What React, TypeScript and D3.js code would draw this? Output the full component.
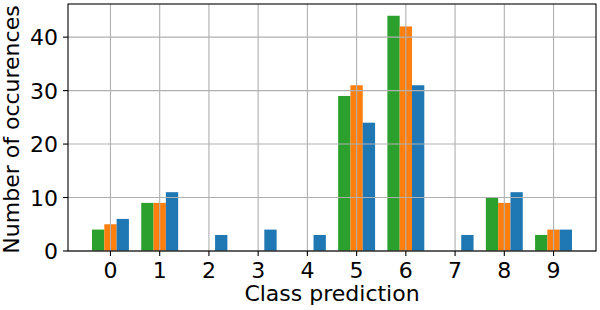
import React from "react";
import * as d3 from "d3";

const categories = [0, 1, 2, 3, 4, 5, 6, 7, 8, 9];
const greenValues = [4, 9, 0, 0, 0, 29, 44, 0, 10, 3];
const orangeValues = [5, 9, 0, 0, 0, 31, 42, 0, 9, 4];
const blueValues = [6, 11, 3, 4, 3, 24, 31, 3, 11, 4];
const yTicks = [0, 10, 20, 30, 40];

const series = [
  { name: "green", values: greenValues, color: "#2ca02c", offset: -0.25 },
  { name: "orange", values: orangeValues, color: "#ff7f0e", offset: 0 },
  { name: "blue", values: blueValues, color: "#1f77b4", offset: 0.25 },
];

const W = 600;
const H = 310;
const left = 68;
const right = 596;
const top = 4;
const bottom = 251;
const barW = 0.25;

export default function App() {
  const x = d3.scaleLinear().domain([-0.8625, 9.8625]).range([left, right]);
  const y = d3.scaleLinear().domain([0, 46.2]).range([bottom, top]);
  const font = "DejaVu Sans, sans-serif";
  const tickSize = 22;
  const labelSize = 22;
  return (
    <svg width={W} height={H} style={{ position: "absolute", left: 0, top: 0 }}>
      <rect x={0} y={0} width={W} height={H} fill="white" />
      {series.map((s) =>
        s.values.map((v, i) => {
          const x0 = x(categories[i] + s.offset - barW / 2);
          const x1 = x(categories[i] + s.offset + barW / 2);
          return (
            <rect key={s.name + i} x={x0} y={y(v)} width={x1 - x0} height={y(0) - y(v)} fill={s.color} />
          );
        })
      )}
      {categories.map((c) => (
        <line key={"gx" + c} x1={x(c)} x2={x(c)} y1={top} y2={bottom} stroke="#b0b0b0" strokeWidth={1.1} />
      ))}
      {yTicks.map((t) => (
        <line key={"gy" + t} x1={left} x2={right} y1={y(t)} y2={y(t)} stroke="#b0b0b0" strokeWidth={1.1} />
      ))}
      <rect x={left} y={top} width={right - left} height={bottom - top} fill="none" stroke="black" strokeWidth={1.1} />
      {categories.map((c) => (
        <g key={"tx" + c}>
          <line x1={x(c)} x2={x(c)} y1={bottom} y2={bottom + 5} stroke="black" strokeWidth={1.1} />
          <text x={x(c)} y={278} textAnchor="middle" fontFamily={font} fontSize={tickSize} fill="black">
            {c}
          </text>
        </g>
      ))}
      {yTicks.map((t) => (
        <g key={"ty" + t}>
          <line x1={left - 5} x2={left} y1={y(t)} y2={y(t)} stroke="black" strokeWidth={1.1} />
          <text x={left - 10} y={y(t) + 8.3} textAnchor="end" fontFamily={font} fontSize={tickSize} fill="black">
            {t}
          </text>
        </g>
      ))}
      <text x={(left + right) / 2} y={300.5} textAnchor="middle" fontFamily={font} fontSize={labelSize} fill="black">
        Class prediction
      </text>
      <text
        transform={`translate(18.5,129.5) rotate(-90)`}
        textAnchor="middle"
        fontFamily={font}
        fontSize={labelSize}
        fill="black"
      >
        Number of occurences
      </text>
    </svg>
  );
}
